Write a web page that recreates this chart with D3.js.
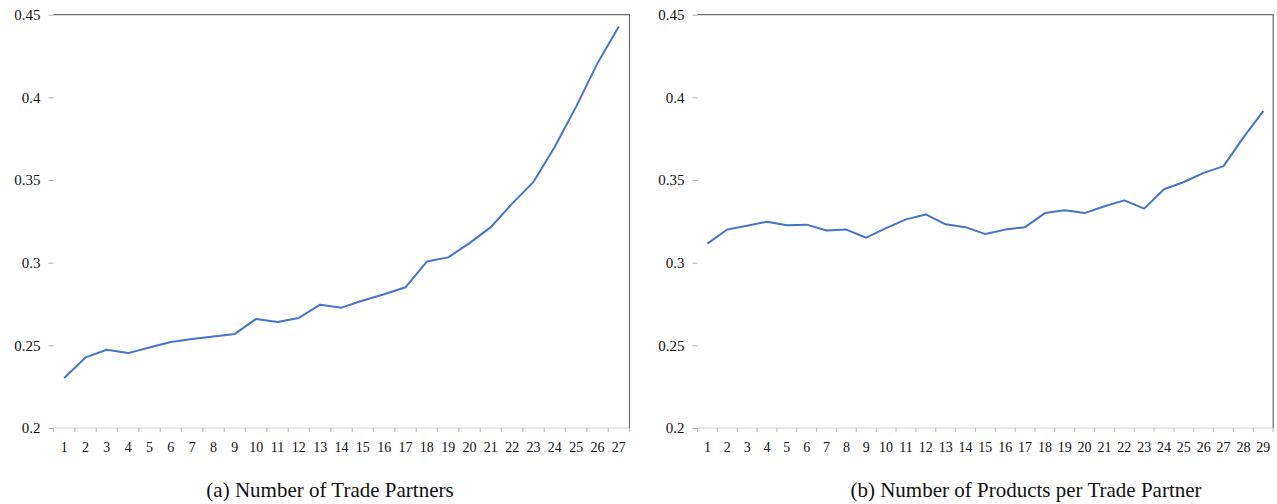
<!DOCTYPE html>
<html>
<head>
<meta charset="utf-8">
<script src="https://cdn.jsdelivr.net/npm/d3@7/dist/d3.min.js"></script>
<style>
  html, body { margin: 0; padding: 0; background: #fff; }
  svg { display: block; }
  svg text { font-family: "Liberation Serif", "Times New Roman", serif; }
</style>
</head>
<body>
<svg id="chart" width="1277" height="504"></svg>
<script>
// Panel (a): share by number of trade partners
const partnersCategories = d3.range(1, 28).map(String);
const partnersValues = [
  0.2302, 0.2427, 0.2473, 0.2453, 0.2487, 0.2520, 0.2538, 0.2554, 0.2569,
  0.2660, 0.2641, 0.2666, 0.2746, 0.2728, 0.2771, 0.2809, 0.2851, 0.3007,
  0.3032, 0.3118, 0.3215, 0.3357, 0.3489, 0.3701, 0.3944, 0.4207, 0.4429
];

// Panel (b): share by number of products per trade partner
const productsCategories = d3.range(1, 30).map(String);
const productsValues = [
  0.3115, 0.3201, 0.3224, 0.3248, 0.3226, 0.3230, 0.3195, 0.3200, 0.3151,
  0.3209, 0.3262, 0.3292, 0.3232, 0.3215, 0.3173, 0.3200, 0.3215, 0.3300,
  0.3317, 0.3300, 0.3341, 0.3377, 0.3327, 0.3444, 0.3488, 0.3543, 0.3584,
  0.3758, 0.3917
];

const yTickValues = [0.2, 0.25, 0.3, 0.35, 0.4, 0.45];
const yTickLabels = ["0.2", "0.25", "0.3", "0.35", "0.4", "0.45"];
const captions = ["(a) Number of Trade Partners", "(b) Number of Products per Trade Partner"];

const svg = d3.select("#chart");

const panels = [
  { cats: partnersCategories, vals: partnersValues, left: 53.5, right: 629.5, caption: captions[0], capX: 330 },
  { cats: productsCategories, vals: productsValues, left: 697.5, right: 1273.2, caption: captions[1], capX: 1026 }
];

const plotTop = 14.7, plotBottom = 428;

panels.forEach(p => {
  const g = svg.append("g");

  const x = d3.scaleBand().domain(p.cats).range([p.left, p.right]).padding(0);
  const y = d3.scaleLinear().domain([0.2, 0.45]).range([plotBottom, plotTop]);

  // Bottom category axis: light rule with ticks on band boundaries
  const bounds = d3.range(p.cats.length + 1).map(i => p.left + i * x.bandwidth());
  g.append("line")
    .attr("x1", p.left).attr("x2", p.right)
    .attr("y1", plotBottom).attr("y2", plotBottom)
    .attr("stroke", "#d4d4d4").attr("stroke-width", 1);
  g.selectAll(".xt").data(bounds).join("line")
    .attr("x1", d => d).attr("x2", d => d)
    .attr("y1", plotBottom).attr("y2", plotBottom + 4)
    .attr("stroke", "#b8b8b8").attr("stroke-width", 1);

  const xAxis = d3.axisBottom(x).tickSize(0).tickPadding(0);
  const xg = g.append("g").attr("transform", `translate(0,${plotBottom})`).call(xAxis);
  xg.select(".domain").remove();
  xg.attr("font-family", null);
  xg.selectAll("text")
    .attr("y", 24).attr("dy", 0)
    .style("font-size", "14px")
    .attr("fill", "#111");

  // Value axis: short gray dashes and labels
  const yAxis = d3.axisLeft(y).tickValues(yTickValues)
    .tickFormat((d, i) => yTickLabels[i]).tickSize(5).tickPadding(8);
  const yg = g.append("g").attr("transform", `translate(${p.left},0)`).call(yAxis);
  yg.select(".domain").remove();
  yg.attr("font-family", null);
  yg.selectAll("line").attr("stroke", "#b0b0b0");
  yg.selectAll("text")
    .style("font-size", "15px")
    .attr("fill", "#111").attr("dy", "0.32em");

  // Plot frame: top and right edges
  g.append("path")
    .attr("d", `M${p.left},${plotTop}H${p.right}V${plotBottom}`)
    .attr("fill", "none").attr("stroke", "#6b6b6b").attr("stroke-width", 1.2);

  // Series line
  const line = d3.line()
    .x((d, i) => x(p.cats[i]) + x.bandwidth() / 2)
    .y(d => y(d));
  g.append("path")
    .datum(p.vals)
    .attr("d", line)
    .attr("fill", "none")
    .attr("stroke", "#4674c8")
    .attr("stroke-width", 2)
    .attr("stroke-linejoin", "round");

  // Caption
  g.append("text")
    .attr("x", p.capX).attr("y", 497)
    .attr("text-anchor", "middle")
    .style("font-size", "21px")
    .attr("fill", "#111")
    .text(p.caption);
});
</script>
</body>
</html>
